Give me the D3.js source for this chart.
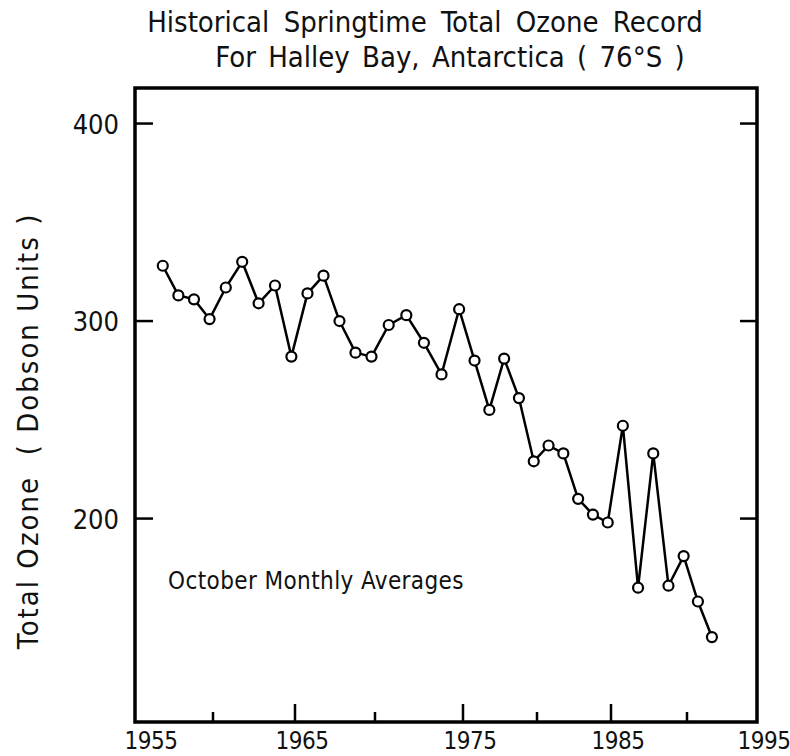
<!DOCTYPE html>
<html>
<head>
<meta charset="utf-8">
<script src="https://cdn.jsdelivr.net/npm/d3@7"></script>
<style>
  body { margin: 0; background: #fff; }
  svg { display: block; }
  text { font-family: "Liberation Sans Narrow", "DejaVu Sans Condensed", "Roboto", sans-serif; fill: #111; }
</style>
</head>
<body>
<div id="chart"></div>
<script>
// October monthly mean total ozone, Halley Bay (Dobson units)
var years = [1956, 1957, 1958, 1959, 1960, 1961, 1962, 1963, 1964, 1965,
             1966, 1967, 1968, 1969, 1970, 1971, 1972, 1973, 1974, 1975,
             1976, 1977, 1978, 1979, 1980, 1981, 1982, 1983, 1984, 1985,
             1986, 1987, 1988, 1989, 1990, 1991];
var ozone = [328, 313, 311, 301, 317, 330, 309, 318, 282, 314,
             323, 300, 284, 282, 298, 303, 289, 273, 306, 280,
             255, 281, 261, 229, 237, 233, 210, 202, 198, 247,
             165, 233, 166, 181, 158, 140];
var xMajor = [1955, 1965, 1975, 1985, 1995];
var xMinor = [1960, 1970, 1980, 1990];
var yTicks = [200, 300, 400];

var width = 790, height = 756;
var mLeft = 135, mRight = 757, mTop = 88, mBottom = 722;

var data = years.map(function(y, i) { return {year: y, valor: ozone[i]}; });

// the hand-drawn axis isn't evenly spaced, so map each 5 years on its own
var x = d3.scaleLinear()
    .domain([1955, 1960, 1965, 1970, 1975, 1980, 1985, 1990, 1995])
    .range([mLeft, 213, 295, 375, 463, 537, 611, 687, mRight]);

var y = d3.scaleLinear()
    .domain([97, 418])
    .range([mBottom, mTop]);

var svg = d3.select("#chart").append("svg")
    .attr("width", width)
    .attr("height", height);

// titles
svg.append("text")
    .attr("x", 425).attr("y", 32)
    .attr("text-anchor", "middle")
    .style("font-size", "29px")
    .style("word-spacing", "6px")
    .text("Historical Springtime  Total  Ozone  Record");
svg.append("text")
    .attr("x", 450).attr("y", 67)
    .attr("text-anchor", "middle")
    .style("font-size", "29px")
    .style("word-spacing", "4px")
    .text("For Halley Bay,  Antarctica ( 76°S )");

// frame
svg.append("rect")
    .attr("x", mLeft).attr("y", mTop)
    .attr("width", mRight - mLeft).attr("height", mBottom - mTop)
    .style("fill", "none")
    .style("stroke", "#000")
    .style("stroke-width", 3.5);

// x ticks
svg.selectAll(".xmaj")
    .data(xMajor.slice(1, -1))
    .enter().append("line")
    .attr("x1", function(d) { return x(d); })
    .attr("x2", function(d) { return x(d); })
    .attr("y1", mBottom).attr("y2", mBottom - 18)
    .style("stroke", "#000").style("stroke-width", 2.5);

svg.selectAll(".xmin")
    .data(xMinor)
    .enter().append("line")
    .attr("x1", function(d) { return x(d); })
    .attr("x2", function(d) { return x(d); })
    .attr("y1", mBottom).attr("y2", mBottom - 10)
    .style("stroke", "#000").style("stroke-width", 2.5);

svg.selectAll(".xlab")
    .data(xMajor)
    .enter().append("text")
    .attr("x", function(d, i) { return x(d) + (i == 0 ? 16 : 7); })
    .attr("y", mBottom + 27)
    .attr("text-anchor", "middle")
    .style("font-size", "24px")
    .style("letter-spacing", "-0.5px")
    .text(function(d) { return d; });

// y ticks, both sides
yTicks.forEach(function(t) {
    svg.append("line")
        .attr("x1", mLeft).attr("x2", mLeft + 18)
        .attr("y1", y(t)).attr("y2", y(t))
        .style("stroke", "#000").style("stroke-width", 2.5);
    svg.append("line")
        .attr("x1", mRight).attr("x2", mRight - 17)
        .attr("y1", y(t)).attr("y2", y(t))
        .style("stroke", "#000").style("stroke-width", 2.5);
    svg.append("text")
        .attr("x", mLeft - 16)
        .attr("y", y(t) + 10)
        .attr("text-anchor", "end")
        .style("font-size", "27px")
        .text(t);
});

svg.append("text")
    .attr("transform", "translate(38,431) rotate(-90)")
    .attr("text-anchor", "middle")
    .style("font-size", "29px")
    .style("letter-spacing", "2px")
    .style("white-space", "pre")
    .text("Total Ozone  ( Dobson Units )");

svg.append("text")
    .attr("x", 168).attr("y", 589)
    .style("font-size", "24px")
    .style("letter-spacing", "0.4px")
    .text("October Monthly Averages");

// October values sit just past each year mark
var line = d3.line()
    .x(function(d) { return x(d.year + 0.78); })
    .y(function(d) { return y(d.valor); });

svg.append("path")
    .datum(data)
    .attr("d", line)
    .style("fill", "none")
    .style("stroke", "#000")
    .style("stroke-width", 2.5)
    .style("stroke-linejoin", "round");

svg.selectAll(".pt")
    .data(data)
    .enter().append("circle")
    .attr("class", "pt")
    .attr("cx", function(d) { return x(d.year + 0.78); })
    .attr("cy", function(d) { return y(d.valor); })
    .attr("r", 5)
    .style("fill", "#fff")
    .style("stroke", "#000")
    .style("stroke-width", 2.2);
</script>
</body>
</html>
